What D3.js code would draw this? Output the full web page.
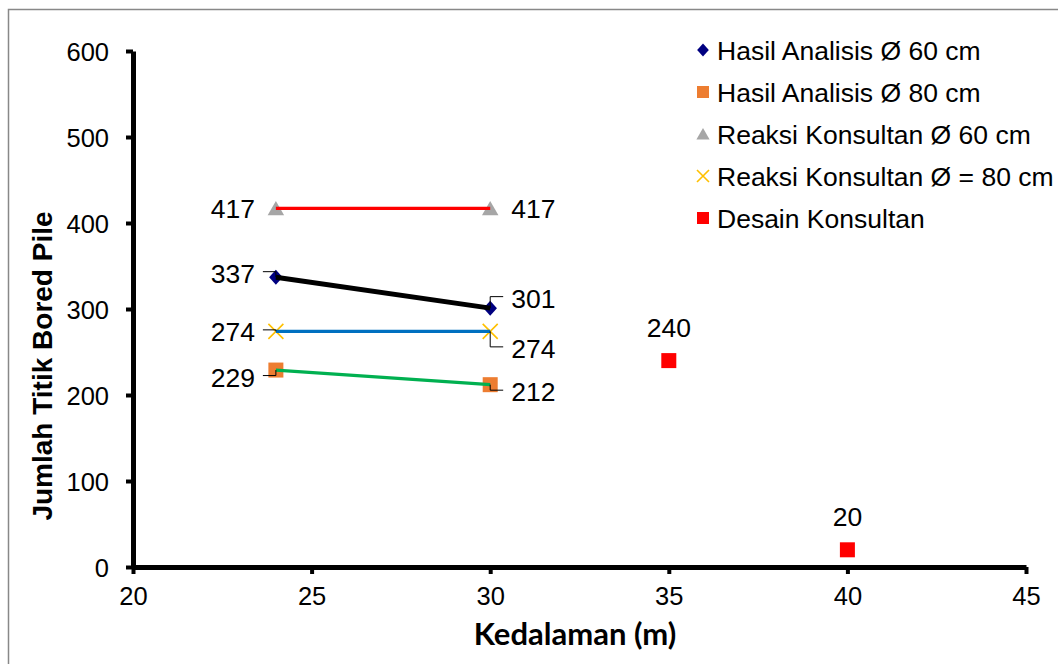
<!DOCTYPE html>
<html>
<head>
<meta charset="utf-8">
<script src="https://cdn.jsdelivr.net/npm/d3@7"></script>
<style>
  html, body { margin: 0; padding: 0; background: #fff; }
  svg { display: block; }
  text { font-family: "Liberation Sans", Arial, sans-serif; fill: #000; }
</style>
</head>
<body>
<svg id="chart" width="1058" height="664"></svg>
<script>
// ---- Data ----
const xTicks = [20, 25, 30, 35, 40, 45];
const yTicks = [0, 100, 200, 300, 400, 500, 600];
const depths = [24, 30];
const hasil60 = [337, 301];
const hasil80 = [229, 212];
const reaksi60 = [417, 417];
const reaksi80 = [274, 274];
const desainDepths = [35, 40];
const desainValues = [240, 20];
const legendLabels = [
  "Hasil Analisis Ø 60 cm",
  "Hasil Analisis Ø 80 cm",
  "Reaksi Konsultan Ø 60 cm",
  "Reaksi Konsultan Ø = 80 cm",
  "Desain Konsultan"
];
const xTitle = "Kedalaman (m)";
const yTitle = "Jumlah Titik Bored Pile";

// ---- Setup ----
const svg = d3.select("#chart");
const W = 1058, H = 664;
svg.append("rect").attr("x", 0).attr("y", 0).attr("width", W).attr("height", H).attr("fill", "#fff");
svg.append("rect").attr("x", 8.5).attr("y", 9.5).attr("width", W + 20).attr("height", H + 20)
  .attr("fill", "none").attr("stroke", "#888").attr("stroke-width", 1.5);

const x = d3.scaleLinear().domain([20, 45]).range([133, 1026]);
const y = d3.scaleLinear().domain([0, 600]).range([567, 51]);

// Axes
const xAxis = d3.axisBottom(x).tickValues(xTicks).tickSize(7).tickSizeOuter(0).tickPadding(13);
const yAxis = d3.axisLeft(y).tickValues(yTicks).tickSize(7).tickSizeOuter(0).tickPadding(17);

const gx = svg.append("g").attr("transform", `translate(0,${y(0)})`).call(xAxis);
const gy = svg.append("g").attr("transform", `translate(${x(20)},0)`).call(yAxis);
[gx, gy].forEach(g => {
  g.select(".domain").attr("stroke", "#000").attr("stroke-width", 5);
  g.selectAll(".tick line").attr("stroke", "#000").attr("stroke-width", 4);
  g.selectAll(".tick text").attr("font-family", "Liberation Sans, Arial, sans-serif")
    .attr("font-size", 25.5).attr("fill", "#000");
});
gy.selectAll(".tick text").attr("dy", "0.36em");

// Axis titles
svg.append("text").attr("x", 575).attr("y", 645).attr("text-anchor", "middle")
  .style("font-family", "Lato, 'Open Sans', sans-serif").attr("font-weight", "bold")
  .attr("font-size", 31).text(xTitle);
svg.append("text").attr("transform", "translate(52,366) rotate(-90)").attr("text-anchor", "middle")
  .attr("font-weight", "bold").attr("font-size", 28).text(yTitle);

// Marker shapes
function diamond(g, cx, cy, s, fill) {
  g.append("path").attr("d", `M${cx},${cy - s}L${cx + s * 0.9},${cy}L${cx},${cy + s}L${cx - s * 0.9},${cy}Z`).attr("fill", fill);
}
function square(g, cx, cy, s, fill) {
  g.append("rect").attr("x", cx - s).attr("y", cy - s).attr("width", 2 * s).attr("height", 2 * s).attr("fill", fill);
}
function triangle(g, cx, cy, s, fill) {
  g.append("path").attr("d", `M${cx},${cy - s}L${cx + s * 1.1},${cy + s * 0.9}L${cx - s * 1.1},${cy + s * 0.9}Z`).attr("fill", fill);
}
function cross(g, cx, cy, s, color) {
  g.append("path").attr("d", `M${cx - s},${cy - s}L${cx + s},${cy + s}M${cx - s},${cy + s}L${cx + s},${cy - s}`)
    .attr("stroke", color).attr("stroke-width", 1.6).attr("fill", "none");
}

const series = [
  { values: hasil60, shape: diamond, color: "#000080", line: "#000000", lw: 5 },
  { values: hasil80, shape: square, color: "#ED7D31", line: "#00B050", lw: 3.2 },
  { values: reaksi60, shape: triangle, color: "#A6A6A6", line: "#FF0000", lw: 3.2 },
  { values: reaksi80, shape: cross, color: "#FFC000", line: "#0070C0", lw: 3.2 }
];

const marks = svg.append("g");
series.forEach(s => {
  s.values.forEach((v, i) => s.shape(marks, x(depths[i]), y(v), 7.5, s.color));
});
desainDepths.forEach((d, i) => square(marks, x(d), y(desainValues[i]), 7.5, "#FF0000"));

const lineGen = d3.line().x((d, i) => x(depths[i])).y(d => y(d));
series.forEach(s => {
  svg.append("path").attr("d", lineGen(s.values)).attr("fill", "none")
    .attr("stroke", s.line).attr("stroke-width", s.lw);
});

// Data labels: side and vertical offset (px) of label centre relative to point
const labelPlacement = [
  [{ side: "left", dy: -4 }, { side: "right", dy: -10 }],   // hasil60
  [{ side: "left", dy: 7 }, { side: "right", dy: 7 }],      // hasil80
  [{ side: "left", dy: 0, noLeader: true }, { side: "right", dy: 0, noLeader: true }], // reaksi60
  [{ side: "left", dy: 0 }, { side: "right", dy: 17 }]      // reaksi80
];
const labels = svg.append("g");
series.forEach((s, si) => {
  s.values.forEach((v, i) => {
    const px = x(depths[i]), py = y(v);
    const p = labelPlacement[si][i];
    const sign = p.side === "left" ? -1 : 1;
    const ly = py + p.dy;
    labels.append("text").attr("x", px + sign * 21).attr("y", ly).attr("dy", "0.36em")
      .attr("text-anchor", p.side === "left" ? "end" : "start").attr("font-size", 26.5).text(v);
    if (!p.noLeader) {
      const yl = ly - 1.5;
      labels.append("path").attr("d", `M${px},${py}L${px},${yl}L${px + sign * 13},${yl}`)
        .attr("fill", "none").attr("stroke", "#000").attr("stroke-width", 1);
    }
  });
});
desainDepths.forEach((d, i) => {
  labels.append("text").attr("x", x(d)).attr("y", y(desainValues[i]) - 33).attr("dy", "0.36em")
    .attr("text-anchor", "middle").attr("font-size", 26.5).text(desainValues[i]);
});

// Legend
const legend = svg.append("g");
const legendShapes = [
  (g, cx, cy) => diamond(g, cx, cy, 6.5, "#000080"),
  (g, cx, cy) => square(g, cx, cy, 6, "#ED7D31"),
  (g, cx, cy) => triangle(g, cx, cy, 6, "#A6A6A6"),
  (g, cx, cy) => cross(g, cx, cy, 6, "#FFC000"),
  (g, cx, cy) => square(g, cx, cy, 6, "#FF0000")
];
legendLabels.forEach((lab, i) => {
  const cy = 50 + i * 42;
  legendShapes[i](legend, 703, cy);
  legend.append("text").attr("x", 717).attr("y", cy).attr("dy", "0.36em")
    .attr("font-size", 26.5).text(lab);
});
</script>
</body>
</html>
